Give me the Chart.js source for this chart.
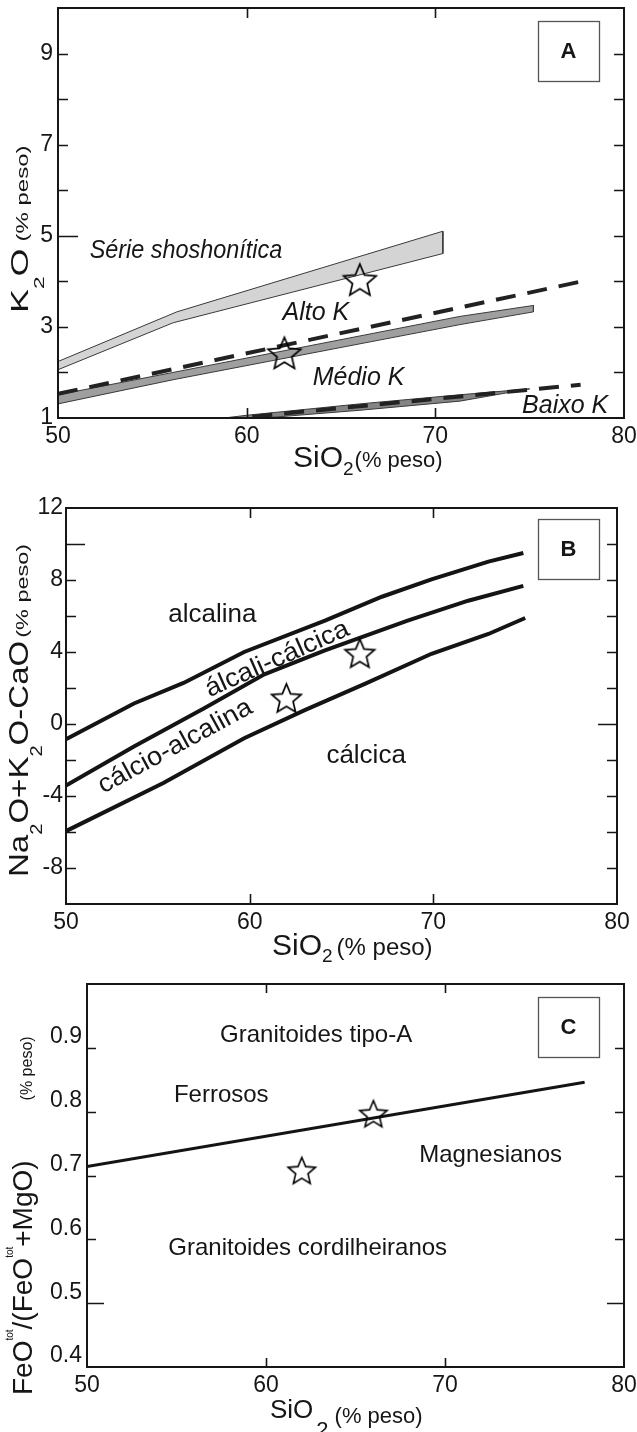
<!DOCTYPE html>
<html><head><meta charset="utf-8">
<script src="https://cdn.jsdelivr.net/npm/chart.js@4.4.1/dist/chart.umd.min.js"></script>
<style>
html,body{margin:0;padding:0;background:#fff;width:637px;height:1432px;overflow:hidden;position:relative;}
canvas{position:absolute;left:0;}
</style></head><body>
<canvas id="cA" width="637" height="490" style="top:0px"></canvas>
<canvas id="cB" width="637" height="500" style="top:480px"></canvas>
<canvas id="cC" width="637" height="462" style="top:970px"></canvas>
<script>
// ---------------- DATA ----------------
const sio2Range = [50, 80];
// Panel A  (K2O vs SiO2)
const shoUpper = [[50, 2.24], [56.3, 3.33], [70.4, 5.10]];
const shoLower = [[50, 2.06], [56.1, 3.09], [70.4, 4.61]];
const medUpper = [[50, 1.51], [56.1, 2.00], [71.3, 3.23], [75.2, 3.47]];
const medLower = [[50, 1.31], [56.1, 1.84], [71.3, 3.05], [75.2, 3.33]];
const lowUpper = [[58.8, 1.00], [60, 1.06], [66, 1.31], [71.3, 1.51], [75, 1.64]];
const lowLower = [[75, 1.64], [71.3, 1.37], [66, 1.17], [60.3, 0.98]];
const dashHighK = [[50, 1.53], [78, 4.02]];
const dashLowK = [[60.3, 1.03], [77.7, 1.73]];
const samplesA = [[66, 4.04], [62, 2.43]];
const labelsA = ['Série shoshonítica', 'Alto K', 'Médio K', 'Baixo K'];
// Panel B  (MALI)
const maliLine1 = [[50, -0.85], [53.7, 1.14], [56.4, 2.28], [59.7, 4.0], [64.1, 5.74], [67.2, 7.07], [69.9, 8.04], [73.0, 9.02], [74.9, 9.5]];
const maliLine2 = [[50, -3.42], [53.7, -1.25], [57.5, 0.86], [60.8, 2.76], [64.1, 4.09], [68.6, 5.74], [71.9, 6.85], [74.9, 7.67]];
const maliLine3 = [[50, -5.95], [55.3, -3.28], [59.7, -0.79], [63.0, 0.77], [66.3, 2.24], [69.9, 3.9], [73.0, 5.0], [75.0, 5.89]];
const samplesB = [[66, 3.94], [62, 1.45]];
const labelsB = ['alcalina', 'álcali-cálcica', 'cálcio-alcalina', 'cálcica'];
// Panel C  (Fe-number)
const feLine = [[50, 0.714], [77.8, 0.846]];
const samplesC = [[66, 0.797], [62, 0.708]];
const labelsC = ['Granitoides tipo-A', 'Ferrosos', 'Magnesianos', 'Granitoides cordilheiranos'];
const panelLetters = ['A', 'B', 'C'];

// ---------------- helpers ----------------
const FONT = '"Liberation Sans", Arial, Helvetica, sans-serif';
const INK = '#161616';
function fontStr(r) { return (r.italic ? 'italic ' : '') + (r.bold ? 'bold ' : '') + r.size + 'px ' + FONT; }
function drawRuns(ctx, x, y, rot, runs, align, baseline) {
  ctx.save();
  ctx.translate(x, y);
  if (rot) ctx.rotate(rot);
  ctx.fillStyle = INK;
  ctx.textBaseline = baseline || 'alphabetic';
  ctx.textAlign = 'left';
  const ws = runs.map(r => { ctx.font = fontStr(r); return (r.gap || 0) + ctx.measureText(r.t).width * (r.sx || 1); });
  const total = ws.reduce((a, b) => a + b, 0);
  let cx = align === 'center' ? -total / 2 : (align === 'right' ? -total : 0);
  runs.forEach((r, i) => {
    ctx.font = fontStr(r);
    ctx.save();
    ctx.translate(cx + (r.gap || 0), r.dy || 0);
    ctx.scale(r.sx || 1, 1);
    ctx.fillText(r.t, 0, 0);
    ctx.restore();
    cx += ws[i];
  });
  ctx.restore();
}
function makeStar(h, lw) {
  const R = h / 1.809, r = R * 0.45;
  const size = Math.ceil(2 * R + 2 * lw + 4);
  const c = document.createElement('canvas');
  c.width = c.height = size;
  const g = c.getContext('2d');
  g.translate(size / 2, size / 2 + 0.095 * R);
  g.beginPath();
  for (let i = 0; i < 10; i++) {
    const ang = -Math.PI / 2 + i * Math.PI / 5;
    const rr = i % 2 ? r : R;
    g.lineTo(rr * Math.cos(ang), rr * Math.sin(ang));
  }
  g.closePath();
  g.lineWidth = lw; g.strokeStyle = '#000'; g.lineJoin = 'miter';
  g.stroke();
  return c;
}
const pts = arr => arr.map(p => ({x: p[0], y: p[1]}));
function band(up, lo) { // upper L->R then lower R->L, closed
  const a = pts(up), b = pts(lo.slice().reverse());
  return a.concat(b, [a[0]]);
}
function ring(arr) { const a = pts(arr); return a.concat([a[0]]); }

function makeChart(id, cfg) {
  const tickFont = {family: FONT, size: 23};
  const deco = {
    id: 'deco_' + id,
    afterDraw(chart) {
      const {ctx, chartArea: a, scales: {x, y}} = chart;
      ctx.save();
      ctx.strokeStyle = INK;
      // tick marks (inward)
      ctx.lineWidth = 1.6;
      ctx.beginPath();
      y.ticks.forEach(t => {
        const v = t.value;
        if (v <= y.min + 1e-9 || v >= y.max - 1e-9) return;
        const p = Math.round(y.getPixelForValue(v)) + 0.5;
        const isL = cfg.longLeft.some(q => Math.abs(q - v) < 1e-6);
        const isR = cfg.longRight.some(q => Math.abs(q - v) < 1e-6);
        const L = isL ? cfg.longLen : cfg.tickLen;
        const R = isR ? cfg.longLen : cfg.tickLen;
        ctx.moveTo(a.left, p); ctx.lineTo(a.left + L, p);
        ctx.moveTo(a.right, p); ctx.lineTo(a.right - R, p);
      });
      x.ticks.forEach(t => {
        const v = t.value;
        if (v <= x.min + 1e-9 || v >= x.max - 1e-9) return;
        const p = Math.round(x.getPixelForValue(v)) + 0.5;
        ctx.moveTo(p, a.top); ctx.lineTo(p, a.top + cfg.tickLen);
        ctx.moveTo(p, a.bottom); ctx.lineTo(p, a.bottom - cfg.tickLen);
      });
      ctx.stroke();
      // frame
      ctx.lineWidth = 2;
      ctx.strokeRect(a.left, a.top, a.right - a.left, a.bottom - a.top);
      // letter box
      const bx = cfg.box;
      ctx.fillStyle = '#fff';
      ctx.fillRect(bx.x, bx.y, bx.w, bx.h);
      ctx.lineWidth = 1.3; ctx.strokeStyle = '#555';
      ctx.strokeRect(bx.x + 0.5, bx.y + 0.5, bx.w, bx.h);
      drawRuns(ctx, bx.x + bx.w / 2, bx.y + bx.h / 2 + 1, 0, [{t: bx.letter, size: 22, bold: true}], 'center', 'middle');
      // in-plot labels (positioned in data space)
      cfg.texts.forEach(tx => {
        drawRuns(ctx, x.getPixelForValue(tx.x), y.getPixelForValue(tx.y), (tx.rot || 0) * Math.PI / 180,
          [{t: tx.t, size: tx.size, italic: tx.italic, sx: tx.sx}], tx.align || 'left', tx.baseline || 'alphabetic');
      });
      // axis titles
      drawRuns(ctx, cfg.xTitle.x, cfg.xTitle.y, 0, cfg.xTitle.runs, 'left', 'alphabetic');
      drawRuns(ctx, cfg.yTitle.x, cfg.yTitle.y, -Math.PI / 2, cfg.yTitle.runs, 'left', 'alphabetic');
      ctx.restore();
    }
  };
  return new Chart(document.getElementById(id), {
    type: 'line',
    data: {datasets: cfg.datasets},
    options: {
      responsive: false, animation: false, devicePixelRatio: 1,
      layout: {padding: {top: cfg.area.top, right: 637 - cfg.area.right, left: 0, bottom: 0}},
      plugins: {legend: {display: false}, tooltip: {enabled: false}},
      elements: {line: {tension: 0}, point: {radius: 0, hoverRadius: 0}},
      events: [],
      scales: {
        x: {
          type: 'linear', min: sio2Range[0], max: sio2Range[1],
          grid: {display: false, drawTicks: false}, border: {display: false},
          ticks: {stepSize: 10, autoSkip: false, maxRotation: 0, font: tickFont, color: INK, padding: cfg.xPad,
            callback: v => String(v)},
          afterFit: s => { s.height = cfg.canvasH - cfg.area.bottom; s.paddingLeft = 0; s.paddingRight = 0; }
        },
        y: {
          type: 'linear', min: cfg.yMin, max: cfg.yMax,
          grid: {display: false, drawTicks: false}, border: {display: false},
          ticks: {stepSize: cfg.yStep, autoSkip: false, font: tickFont, color: INK, padding: cfg.yPad,
            labelOffset: cfg.yLabelOffset || 0, callback: cfg.yLabel},
          afterFit: s => { s.width = cfg.area.left; s.paddingTop = 0; s.paddingBottom = 0; }
        }
      }
    },
    plugins: [deco]
  });
}

// ---------------- Panel A ----------------
const starA = makeStar(31, 1.7);
makeChart('cA', {
  canvasH: 490, area: {left: 58, right: 624, top: 8, bottom: 418},
  yMin: 1, yMax: 10, yStep: 1, xPad: 5, yPad: 5,
  yLabel: v => (Math.round(v) % 2 === 1 && v < 10) ? String(v) : '',
  tickLen: 10, longLen: 20, longLeft: [5], longRight: [],
  box: {x: 538, y: 21, w: 61, h: 60, letter: panelLetters[0]},
  texts: [
    {t: labelsA[0], x: 51.68, y: 4.52, size: 26, italic: true, sx: 0.9},
    {t: labelsA[1], x: 61.9, y: 3.16, size: 25, italic: true},
    {t: labelsA[2], x: 63.5, y: 1.73, size: 25, italic: true},
    {t: labelsA[3], x: 74.6, y: 1.12, size: 25, italic: true}
  ],
  xTitle: {x: 293, y: 467, runs: [{t: 'SiO', size: 30}, {t: '2', size: 19, dy: 8}, {t: '(% peso)', size: 22, gap: 1}]},
  yTitle: {x: 27.5, y: 313, runs: [{t: 'K', size: 24, sx: 1.5}, {t: '2', size: 15, dy: 16, sx: 1.5}, {t: 'O', size: 24, sx: 1.5},
    {t: '(% peso)', size: 16, sx: 1.5, gap: 7}]},
  datasets: [
    {data: pts(samplesA), showLine: false, pointStyle: starA, pointRadius: 6, order: 0},
    {data: pts(dashHighK), borderColor: '#222', borderWidth: 4, borderDash: [20, 12], fill: false, order: 1},
    {data: pts(dashLowK), borderColor: '#222', borderWidth: 4, borderDash: [20, 12], fill: false, order: 2},
    {data: band(shoUpper, shoLower), borderColor: '#3a3a3a', borderWidth: 1, backgroundColor: '#d4d4d4', fill: 'shape', order: 3},
    {data: band(medUpper, medLower), borderColor: '#3a3a3a', borderWidth: 1, backgroundColor: '#9f9f9f', fill: 'shape', order: 4},
    {data: ring(lowUpper.concat(lowLower)), borderColor: '#3a3a3a', borderWidth: 1, backgroundColor: '#848484', fill: 'shape', order: 5}
  ]
});

// ---------------- Panel B ----------------
const starB = makeStar(28, 1.7);
makeChart('cB', {
  canvasH: 500, area: {left: 66, right: 617, top: 28, bottom: 424},
  yMin: -10, yMax: 12, yStep: 2, xPad: 5, yPad: 3,
  yLabel: v => (Math.round(v) % 4 === 0) ? String(v) : '',
  tickLen: 10, longLen: 19, longLeft: [10], longRight: [0],
  box: {x: 538, y: 39, w: 61, h: 60, letter: panelLetters[1]},
  texts: [
    {t: labelsB[0], x: 57.97, y: 6.07, size: 26, align: 'center', baseline: 'middle'},
    {t: labelsB[1], x: 61.5, y: 3.6, size: 26, align: 'center', baseline: 'middle', rot: -24, sx: 1.05},
    {t: labelsB[2], x: 55.95, y: -1.25, size: 26, align: 'center', baseline: 'middle', rot: -28.5, sx: 1.05},
    {t: labelsB[3], x: 66.34, y: -1.77, size: 26, align: 'center', baseline: 'middle'}
  ],
  xTitle: {x: 272, y: 475, runs: [{t: 'SiO', size: 30}, {t: '2', size: 19, dy: 7}, {t: '(% peso)', size: 24, gap: 4}]},
  yTitle: {x: 28, y: 397, runs: [{t: 'Na', size: 28, sx: 1.18}, {t: '2', size: 17, dy: 14, sx: 1.18}, {t: 'O+K', size: 28, sx: 1.18},
    {t: '2', size: 17, dy: 14, sx: 1.18}, {t: 'O-CaO', size: 28, sx: 1.18}, {t: '(% peso)', size: 17, sx: 1.38, gap: 3}]},
  datasets: [
    {data: pts(samplesB), showLine: false, pointStyle: starB, pointRadius: 6, order: 0},
    {data: pts(maliLine1), borderColor: '#141414', borderWidth: 4, fill: false, order: 1},
    {data: pts(maliLine2), borderColor: '#141414', borderWidth: 4, fill: false, order: 2},
    {data: pts(maliLine3), borderColor: '#141414', borderWidth: 4, fill: false, order: 3}
  ]
});

// ---------------- Panel C ----------------
const starC = makeStar(26, 1.6);
makeChart('cC', {
  canvasH: 462, area: {left: 87, right: 624, top: 14, bottom: 397},
  yMin: 0.4, yMax: 1.0, yStep: 0.1, xPad: 5, yPad: 5, yLabelOffset: -11,
  yLabel: v => v < 0.95 ? v.toFixed(1) : '',
  tickLen: 9, longLen: 17, longLeft: [0.5], longRight: [0.5],
  box: {x: 538, y: 27, w: 61, h: 60, letter: panelLetters[2]},
  texts: [
    {t: labelsC[0], x: 62.8, y: 0.919, size: 24, align: 'center', baseline: 'middle'},
    {t: labelsC[1], x: 57.5, y: 0.826, size: 24, align: 'center', baseline: 'middle'},
    {t: labelsC[2], x: 72.55, y: 0.731, size: 24, align: 'center', baseline: 'middle'},
    {t: labelsC[3], x: 62.33, y: 0.586, size: 24, align: 'center', baseline: 'middle'}
  ],
  xTitle: {x: 270, y: 448, runs: [{t: 'SiO', size: 26}, {t: '2', size: 22, dy: 19, gap: 3}, {t: '(% peso)', size: 22, gap: 6, dy: 5}]},
  yTitle: {x: 32, y: 425, runs: [{t: 'FeO', size: 28}, {t: 'tot', size: 10, dy: -19}, {t: '/(FeO', size: 28}, {t: 'tot', size: 10, dy: -19},
    {t: '+MgO)', size: 28}, {t: '(% peso)', size: 16, gap: 60}]},
  datasets: [
    {data: pts(samplesC), showLine: false, pointStyle: starC, pointRadius: 6, order: 0},
    {data: pts(feLine), borderColor: '#141414', borderWidth: 3, fill: false, order: 1}
  ]
});
</script>
</body></html>
